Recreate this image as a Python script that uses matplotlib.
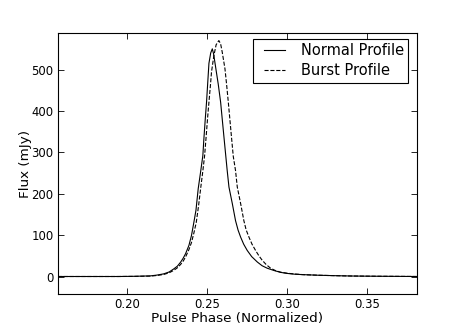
import matplotlib
matplotlib.use('Agg')
import matplotlib.pyplot as plt
from matplotlib.legend_handler import HandlerLine2D

# Pulse profiles
normal_phase = [0.157, 0.175, 0.195, 0.205, 0.2148, 0.219, 0.2231, 0.2265, 0.2294, 0.2316,
                0.2336, 0.2352, 0.2367, 0.2388, 0.2404, 0.2419, 0.2432, 0.2446, 0.2460, 0.2475,
                0.2481, 0.2490, 0.2498, 0.2505, 0.2513, 0.2524, 0.2534, 0.2542, 0.2550, 0.2561,
                0.2571, 0.2586, 0.2606, 0.2621, 0.2627, 0.2638, 0.2659, 0.2679, 0.2695, 0.2711,
                0.2730, 0.2752, 0.2780, 0.2815, 0.2845, 0.2877, 0.2919, 0.2960, 0.300, 0.305,
                0.310, 0.320, 0.330, 0.340, 0.350, 0.360, 0.370, 0.381]
normal_flux = [0, 0, 0, 0.5, 1.5, 3.5, 6.4, 11, 18.5, 25,
               34.6, 44, 55, 75, 99, 131, 160, 212, 250, 292,
               330, 380, 421, 465, 515, 540, 550, 538, 518, 490,
               465, 421, 340, 280, 256, 216, 176, 135, 112, 95,
               78, 63, 48, 35, 26, 20, 14.5, 10, 7.5, 5.5,
               4.5, 3, 2, 1.2, 0.8, 0.5, 0.3, 0]

burst_phase = [0.157, 0.175, 0.195, 0.205, 0.2148, 0.219, 0.2231, 0.2265, 0.2294, 0.2316,
               0.2336, 0.2352, 0.2367, 0.2388, 0.2404, 0.2419, 0.2434, 0.2448, 0.2461, 0.2475,
               0.2486, 0.2496, 0.2505, 0.2513, 0.2523, 0.2529, 0.2544, 0.2558, 0.2575, 0.2586,
               0.2596, 0.2613, 0.2623, 0.2634, 0.2653, 0.2665, 0.2679, 0.2690, 0.2711, 0.2731,
               0.2745, 0.2763, 0.2782, 0.2804, 0.2825, 0.2846, 0.2870, 0.2898, 0.2930, 0.2960,
               0.300, 0.305, 0.310, 0.320, 0.330, 0.340, 0.350, 0.360, 0.370, 0.381]
burst_flux = [0, 0, 0, 0.3, 1, 2.5, 5, 9, 15, 21,
              29, 37, 47, 65, 82, 105, 131, 170, 212, 255,
              292, 340, 385, 421, 465, 494, 534, 560, 570, 562,
              542, 502, 465, 421, 340, 290, 256, 216, 176, 135,
              113, 95, 78, 63, 50, 39, 29, 20, 14, 10.5,
              8, 6, 4.5, 3, 2, 1.2, 0.8, 0.5, 0.3, 0]

x_ticks = [0.20, 0.25, 0.30, 0.35]
y_ticks = [0, 100, 200, 300, 400, 500]

fig = plt.figure(figsize=(4.63, 3.27), dpi=100)
ax = fig.add_axes([0.125, 0.1, 0.775, 0.8])

ax.plot(normal_phase, normal_flux, color='black', linestyle='-', linewidth=0.8, label='Normal Profile')
ax.plot(burst_phase, burst_flux, color='black', linestyle='--', linewidth=0.8, label='Burst Profile')

ax.set_xlim(0.157, 0.381)
ax.set_ylim(-43, 589)
ax.set_xticks(x_ticks)
ax.set_xticklabels(['%.2f' % t for t in x_ticks])
ax.set_yticks(y_ticks)
ax.tick_params(direction='in', top=True, right=True, length=4, width=0.6, labelsize=8.4, pad=3)
for s in ax.spines.values():
    s.set_linewidth(0.8)

ax.set_xlabel('Pulse Phase (Normalized)', fontsize=9.7, labelpad=0.5)
ax.set_ylabel('Flux (mJy)', fontsize=9.7, labelpad=-0.5)

leg = ax.legend(loc='upper right', fontsize=10.5, fancybox=False, framealpha=1,
                edgecolor='black', handlelength=1.92, handletextpad=1.07,
                labelspacing=0.34, borderpad=0.29, borderaxespad=0.45,
                bbox_to_anchor=(0.995, 1.0),
                handler_map={plt.Line2D: HandlerLine2D(xpad=0.45)})
leg.get_frame().set_linewidth(0.8)

plt.savefig('out.png', dpi=100)
